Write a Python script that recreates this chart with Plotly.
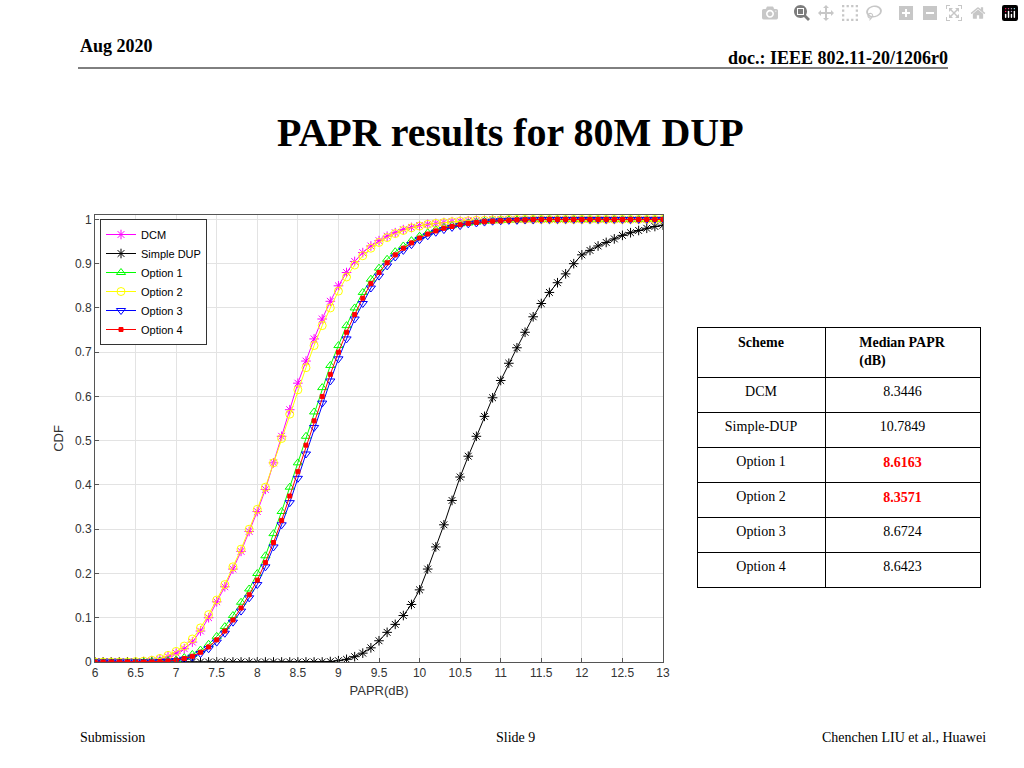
import plotly.graph_objects as go

papr_db = [round(6.0 + 0.1 * i, 1) for i in range(71)]

cdf_dcm = [0, 0, 0, 0, 0, 0, 0.001, 0.003, 0.006, 0.012,
           0.02, 0.03, 0.045, 0.07, 0.10, 0.136, 0.17, 0.21, 0.25, 0.295, 0.34, 0.39, 0.45, 0.51, 0.57, 0.63, 0.68, 0.73, 0.775, 0.815, 0.85,
           0.88, 0.905, 0.925, 0.94, 0.952, 0.962, 0.97, 0.977, 0.982, 0.986,
           0.989, 0.991, 0.993, 0.995, 0.996, 0.997, 0.998, 0.998, 0.999, 0.999,
           1, 1, 1, 1, 1, 1, 1, 1, 1, 1, 1, 1, 1, 1, 1, 1, 1, 1, 1, 1]
cdf_simple_dup = [0, 0, 0, 0, 0, 0, 0, 0, 0, 0, 0, 0, 0, 0, 0, 0, 0, 0, 0, 0, 0, 0, 0, 0, 0, 0, 0, 0, 0, 0.001,
                  0.003, 0.006, 0.012, 0.02, 0.032, 0.048, 0.067, 0.085, 0.105, 0.13, 0.163,
                  0.21, 0.26, 0.31, 0.365, 0.418, 0.465, 0.51, 0.555, 0.597, 0.636,
                  0.675, 0.71, 0.745, 0.78, 0.81, 0.835, 0.857, 0.877, 0.9, 0.92,
                  0.93, 0.94, 0.948, 0.956, 0.964, 0.97, 0.975, 0.98, 0.984, 0.987]
cdf_opt1 = [0, 0, 0, 0, 0, 0, 0, 0.001, 0.002, 0.003,
            0.005, 0.01, 0.017, 0.027, 0.04, 0.058, 0.08, 0.105, 0.135, 0.165, 0.20, 0.24, 0.29, 0.34, 0.395, 0.45, 0.51, 0.565, 0.62, 0.67, 0.715,
            0.76, 0.80, 0.835, 0.865, 0.89, 0.91, 0.927, 0.94, 0.952, 0.962,
            0.97, 0.977, 0.982, 0.986, 0.99, 0.992, 0.994, 0.996, 0.997, 0.998,
            0.999, 0.999, 1, 1, 1, 1, 1, 1, 1, 1, 1, 1, 1, 1, 1, 1, 1, 1, 1, 1]
cdf_opt2 = [0, 0, 0, 0, 0, 0.001, 0.002, 0.004, 0.008, 0.015,
            0.024, 0.036, 0.052, 0.077, 0.107, 0.14, 0.175, 0.215, 0.255, 0.30, 0.345, 0.395, 0.45, 0.505, 0.56, 0.615, 0.665, 0.715, 0.76, 0.80, 0.838,
            0.87, 0.897, 0.918, 0.935, 0.948, 0.959, 0.968, 0.975, 0.981, 0.985,
            0.989, 0.991, 0.993, 0.995, 0.996, 0.997, 0.998, 0.998, 0.999, 0.999,
            1, 1, 1, 1, 1, 1, 1, 1, 1, 1, 1, 1, 1, 1, 1, 1, 1, 1, 1, 1]
cdf_opt3 = [0, 0, 0, 0, 0, 0, 0, 0, 0.001, 0.002,
            0.003, 0.006, 0.011, 0.019, 0.03, 0.045, 0.065, 0.09, 0.115, 0.145, 0.175, 0.215, 0.26, 0.31, 0.36, 0.415, 0.47, 0.53, 0.585, 0.635, 0.685,
            0.73, 0.775, 0.81, 0.845, 0.872, 0.895, 0.915, 0.93, 0.943, 0.954,
            0.963, 0.971, 0.977, 0.982, 0.986, 0.99, 0.992, 0.994, 0.996, 0.997,
            0.998, 0.998, 0.999, 0.999, 1, 1, 1, 1, 1, 1, 1, 1, 1, 1, 1, 1, 1, 1, 1, 1]
cdf_opt4 = [0, 0, 0, 0, 0, 0, 0, 0, 0.001, 0.002,
            0.004, 0.008, 0.013, 0.022, 0.034, 0.05, 0.07, 0.095, 0.122, 0.152, 0.185, 0.225, 0.27, 0.32, 0.375, 0.43, 0.49, 0.545, 0.60, 0.65, 0.70,
            0.745, 0.785, 0.822, 0.855, 0.88, 0.902, 0.92, 0.935, 0.947, 0.958,
            0.967, 0.974, 0.98, 0.984, 0.988, 0.991, 0.993, 0.995, 0.996, 0.997,
            0.998, 0.999, 0.999, 1, 1, 1, 1, 1, 1, 1, 1, 1, 1, 1, 1, 1, 1, 1, 1, 1]

series_names = ["DCM", "Simple DUP", "Option 1", "Option 2", "Option 3", "Option 4"]
series_values = [cdf_dcm, cdf_simple_dup, cdf_opt1, cdf_opt2, cdf_opt3, cdf_opt4]
series_colors = ["#ff00ff", "#000000", "#00ff00", "#ffff00", "#0000ff", "#ff0000"]
series_symbols = ["asterisk-open", "asterisk-open", "triangle-up-open", "circle-open", "triangle-down-open", "square"]
series_sizes = [8, 8, 8, 8, 8, 4]

table_schemes = ["DCM", "Simple-DUP", "Option 1", "Option 2", "Option 3", "Option 4"]
table_medians = ["8.3446", "10.7849", "8.6163", "8.3571", "8.6724", "8.6423"]
table_highlight = [False, False, True, True, False, False]

x_ticks = [6, 6.5, 7, 7.5, 8, 8.5, 9, 9.5, 10, 10.5, 11, 11.5, 12, 12.5, 13]
y_ticks = [0, 0.1, 0.2, 0.3, 0.4, 0.5, 0.6, 0.7, 0.8, 0.9, 1]

W, H = 1024, 768
fig = go.Figure()
for name, vals, col, sym, sz in zip(series_names, series_values, series_colors, series_symbols, series_sizes):
    fig.add_trace(go.Scatter(x=papr_db, y=vals, name=name, mode="lines+markers",
                             line=dict(color=col, width=1),
                             marker=dict(symbol=sym, size=sz, color=col, line=dict(color=col, width=1))))

med_cells = [f"<b>{v}</b>" if h else v for v, h in zip(table_medians, table_highlight)]
med_colors = ["#ff0000" if h else "#000000" for h in table_highlight]
fig.add_trace(go.Table(
    domain=dict(x=[697 / W, 980 / W], y=[1 - 590 / H, 1 - 327 / H]),
    columnwidth=[128, 155],
    header=dict(values=["<b>Scheme</b>", "<b>Median PAPR<br>(dB)</b>"], height=50,
                fill_color="white", line_color="black", align="center",
                font=dict(family="Liberation Serif", size=14, color="black")),
    cells=dict(values=[table_schemes, med_cells], height=35,
               fill_color="white", line_color="black", align="center",
               font=dict(family="Liberation Serif", size=14, color=[["#000000"] * 6, med_colors]))))

axis_common = dict(showgrid=True, gridcolor="#e3e3e3", gridwidth=1, showline=True, linecolor="#555555",
                   linewidth=1, mirror=True, ticks="inside", ticklen=4, tickcolor="#555555", automargin=False,
                   tickfont=dict(family="Liberation Sans", size=12, color="#333333"), zeroline=False)
fig.update_layout(
    width=W, height=H, margin=dict(l=0, r=0, t=0, b=0, autoexpand=False),
    paper_bgcolor="white", plot_bgcolor="white",
    xaxis=dict(domain=[95 / W, 663 / W], range=[6, 13], tickvals=x_ticks,
               ticktext=[f"{t:g}" for t in x_ticks],
               title=dict(text="PAPR(dB)", font=dict(family="Liberation Sans", size=13, color="#333333"), standoff=6),
               **axis_common),
    yaxis=dict(domain=[1 - 662 / H, 1 - 215 / H], range=[0, 1.01], tickvals=y_ticks,
               ticktext=[f"{t:g}" for t in y_ticks],
               title=dict(text="CDF", font=dict(family="Liberation Sans", size=13, color="#333333"), standoff=8),
               **axis_common),
    legend=dict(x=100 / W, y=1 - 219 / H, xanchor="left", yanchor="top", bgcolor="white",
                bordercolor="#333333", borderwidth=1, tracegroupgap=0, itemwidth=30,
                font=dict(family="Liberation Sans", size=11, color="black")),
    showlegend=True,
)
fig.add_shape(type="line", xref="paper", yref="paper", x0=78 / W, x1=948 / W, y0=1 - 68 / H, y1=1 - 68 / H,
              line=dict(color="black", width=1))
ann = [
    ("Aug 2020", 78, 46, "left", 18, True),
    ("doc.: IEEE 802.11-20/1206r0", 950, 58, "right", 18, True),
    ("PAPR results for 80M DUP", 510, 132, "center", 40, True),
    ("Submission", 78, 737, "left", 14, False),
    ("Slide 9", 515, 737, "center", 14, False),
    ("Chenchen LIU et al., Huawei", 988, 737, "right", 14, False),
]
for text, x, y, anc, size, bold in ann:
    fig.add_annotation(text=f"<b>{text}</b>" if bold else text, xref="paper", yref="paper",
                       x=x / W, y=1 - y / H, xanchor=anc, yanchor="middle", showarrow=False,
                       font=dict(family="Liberation Serif", size=size, color="black"))
fig.write_html("out.html",
               post_script="document.body.style.margin='0';document.body.style.overflow='hidden';")
